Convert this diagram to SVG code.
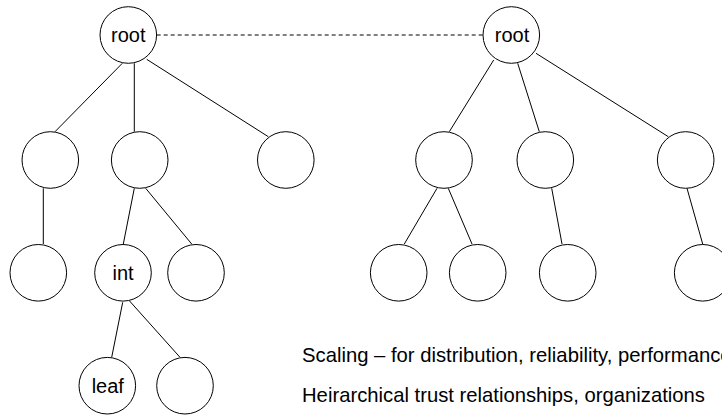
<svg xmlns="http://www.w3.org/2000/svg" width="722" height="418" viewBox="0 0 722 418">
<style>
.n{fill:#fff;stroke:#000;stroke-width:1}
.e{stroke:#000;stroke-width:1;fill:none}
.d{stroke:#000;stroke-width:1;fill:none;stroke-dasharray:4 3}
.t{font-family:"Liberation Sans",Arial,sans-serif;font-size:20px;fill:#000}
.w{font-size:20.25px}
.m{text-anchor:middle}
</style>
<rect width="722" height="418" fill="#fff"/>
<g id="connectors">
<line class="d" x1="156.7" y1="35" x2="482.7" y2="35"/>
<line class="e" x1="122.3" y1="63.3" x2="55" y2="131.7"/>
<line class="e" x1="134.3" y1="63.3" x2="134.3" y2="131.7"/>
<line class="e" x1="146.7" y1="59.3" x2="268.3" y2="136.7"/>
<line class="e" x1="43.3" y1="188.3" x2="43.3" y2="244"/>
<line class="e" x1="134.3" y1="188.3" x2="123.3" y2="244"/>
<line class="e" x1="145.7" y1="188.3" x2="191.7" y2="244"/>
<line class="e" x1="122.7" y1="302.3" x2="111.7" y2="357.3"/>
<line class="e" x1="129.3" y1="300.7" x2="180" y2="357.3"/>
<line class="e" x1="493.7" y1="60" x2="449.3" y2="131.7"/>
<line class="e" x1="517.7" y1="63.3" x2="539.3" y2="131.7"/>
<line class="e" x1="536" y1="53.3" x2="668.3" y2="136.7"/>
<line class="e" x1="437" y1="188.3" x2="404.3" y2="244"/>
<line class="e" x1="448.3" y1="188.3" x2="472" y2="244"/>
<line class="e" x1="551.7" y1="188.3" x2="562" y2="244"/>
<line class="e" x1="687" y1="188.3" x2="702.7" y2="244"/>
</g>
<g id="rootL"><circle class="n" cx="128.3" cy="35" r="28.3"/><text class="t m" x="128.3" y="42">root</text></g>
<g id="L1a"><circle class="n" cx="50.3" cy="160" r="28.3"/></g>
<g id="L1b"><circle class="n" cx="139.7" cy="160" r="28.3"/></g>
<g id="L1c"><circle class="n" cx="285.8" cy="160" r="28.3"/></g>
<g id="L2a"><circle class="n" cx="38.3" cy="272.8" r="28.3"/></g>
<g id="int"><circle class="n" cx="123" cy="272.8" r="28.3"/><text class="t m" x="123" y="280">int</text></g>
<g id="L2c"><circle class="n" cx="196" cy="272.8" r="28.3"/></g>
<g id="leaf"><circle class="n" cx="107.3" cy="385.7" r="28.3"/><text class="t m" x="107.8" y="393">leaf</text></g>
<g id="L3b"><circle class="n" cx="185" cy="385.7" r="28.3"/></g>
<g id="rootR"><circle class="n" cx="511.3" cy="35" r="28.3"/><text class="t m" x="512" y="42">root</text></g>
<g id="R1a"><circle class="n" cx="444" cy="160" r="28.3"/></g>
<g id="R1b"><circle class="n" cx="545.3" cy="160" r="28.3"/></g>
<g id="R1c"><circle class="n" cx="685.7" cy="160" r="28.3"/></g>
<g id="R2a"><circle class="n" cx="398.7" cy="272.8" r="28.3"/></g>
<g id="R2b"><circle class="n" cx="477.7" cy="272.8" r="28.3"/></g>
<g id="R2c"><circle class="n" cx="567.7" cy="272.8" r="28.3"/></g>
<g id="R2d"><circle class="n" cx="702.7" cy="272.8" r="28.3"/></g>
<g id="notes">
<text class="t w" x="302" y="362">Scaling – for distribution, reliability, performance</text>
<text class="t w" x="302" y="402">Heirarchical trust relationships, organizations</text>
</g>
</svg>
